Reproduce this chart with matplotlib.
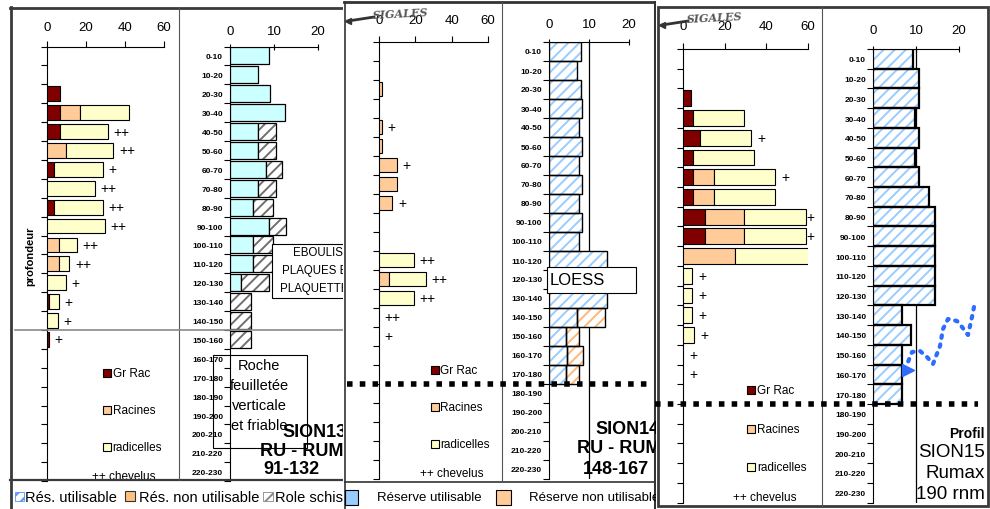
import matplotlib.pyplot as plt
import matplotlib.transforms as mtransforms
from matplotlib.patches import Rectangle
from matplotlib.lines import Line2D

plt.rcParams['font.family'] = ['Liberation Sans', 'DejaVu Sans']
plt.rcParams['hatch.linewidth'] = 1.4
plt.rcParams['axes.linewidth'] = 0.8

profondeurs = ['0-10', '10-20', '20-30', '30-40', '40-50', '50-60', '60-70',
               '70-80', '80-90', '90-100', '100-110', '110-120', '120-130',
               '130-140', '140-150', '150-160', '160-170', '170-180',
               '180-190', '190-200', '200-210', '210-220', '220-230']

# SION13 : racines (gauche) et reserves (droite)
s13_gr_rac = [0, 0, 6.8, 6.8, 6.8, 0, 3.7, 0, 3.7, 0, 0, 0, 0, 1.2, 0, 0.8, 0, 0, 0, 0, 0, 0, 0]
s13_racines = [0, 0, 0, 9.9, 0, 9.7, 0, 0, 0, 0, 6.0, 6.0, 0, 0, 0, 0, 0, 0, 0, 0, 0, 0, 0]
s13_radicelles = [0, 0, 0, 25.1, 24.4, 24.4, 24.8, 24.4, 24.8, 29.5, 9.3, 5.4, 9.7, 4.8, 5.5, 0, 0, 0, 0, 0, 0, 0, 0]
s13_chevelus = ['', '', '', '', '++', '++', '+', '++', '++', '++', '++', '++', '+', '+', '+', '+',
                '', '', '', '', '', '', '']
s13_res_util = [8.85, 6.4, 9.1, 12.5, 6.4, 6.4, 8.1, 6.4, 5.2, 8.8, 5.2, 5.2, 2.5, 0, 0, 0, 0, 0, 0, 0, 0, 0, 0]
s13_schiste = [0, 0, 0, 0, 4.0, 4.0, 3.8, 4.0, 4.6, 3.9, 4.6, 5.4, 6.3, 4.8, 4.8, 4.8, 0, 0, 0, 0, 0, 0, 0]

# SION14
s14_gr_rac = [0, 0, 0, 0, 0, 0, 0, 0, 0, 0, 0, 0, 0, 0, 0, 0, 0, 0, 0, 0, 0, 0, 0]
s14_racines = [0, 0, 1.5, 0, 1.5, 1.5, 9.8, 9.8, 7.4, 0, 0, 0, 5.7, 0, 0, 0, 0, 0, 0, 0, 0, 0, 0]
s14_radicelles = [0, 0, 0, 0, 0, 0, 0, 0, 0, 0, 0, 19.3, 20.1, 19.3, 0, 0, 0, 0, 0, 0, 0, 0, 0]
s14_chevelus = ['', '', '', '', '+', '', '+', '', '+', '', '', '++', '++', '++', '++', '+',
                '', '', '', '', '', '', '']
s14_res_util = [7.9, 6.9, 7.9, 8.3, 7.4, 8.3, 7.4, 8.3, 7.4, 8.3, 7.4, 14.4, 14.4, 14.4, 6.9, 4.2, 4.5, 4.2,
                0, 0, 0, 0, 0]
s14_res_non_util = [0, 0, 0, 0, 0, 0, 0, 0, 0, 0, 0, 0, 0, 0, 7.1, 3.4, 3.9, 3.4, 0, 0, 0, 0, 0]

# SION15
s15_gr_rac = [0, 0, 3.7, 4.8, 8.0, 4.8, 4.8, 4.8, 10.4, 10.4, 0, 0, 0, 0, 0, 0, 0, 0, 0, 0, 0, 0, 0]
s15_racines = [0, 0, 0, 0, 0, 0, 9.9, 9.9, 18.9, 18.9, 24.8, 0, 0, 0, 0, 0, 0, 0, 0, 0, 0, 0, 0]
s15_radicelles = [0, 0, 0, 24.5, 24.6, 29.3, 29.5, 29.5, 29.9, 29.9, 35.7, 4.3, 4.3, 4.3, 5.3, 0, 0, 0,
                  0, 0, 0, 0, 0]
s15_chevelus = ['', '', '', '', '+', '', '+', '', '+', '+', '', '+', '+', '+', '+', '+', '+',
                '', '', '', '', '', '']
s15_res_util = [9.4, 10.6, 10.6, 9.7, 10.6, 9.7, 10.6, 13.0, 14.4, 14.4, 14.4, 14.4, 14.4, 6.7, 8.9, 6.7,
                6.7, 6.7, 0, 0, 0, 0, 0]

C_GR = '#800000'
C_RAC = '#FFCC99'
C_RAD = '#FFFFCC'

W, H = 990, 510
fig = plt.figure(figsize=(W / 100, H / 100), dpi=100)
px = mtransforms.Affine2D().scale(1 / W, -1 / H).translate(0, 1) + fig.transFigure
rangs = list(range(len(profondeurs)))
bords = [r - 0.5 for r in range(len(profondeurs) + 1)]
zeros = [0] * len(profondeurs)


def axe(x0, x1, top, rowh, z, xmax, xticks, pad, tdir):
    y1 = top + rowh * len(profondeurs)
    ax = fig.add_axes([x0 / W, 1 - y1 / H, (x1 - x0) / W, (y1 - top) / H])
    ax.set_zorder(z)
    ax.patch.set_visible(False)
    ax.set_xlim(0, xmax)
    ax.set_ylim(len(profondeurs) - 0.5, -0.5)
    ax.spines[['right', 'bottom']].set_visible(False)
    ax.xaxis.tick_top()
    ax.set_xticks(xticks)
    ax.tick_params(axis='x', direction=tdir, length=4, width=0.8, pad=pad, labelsize=9.5)
    ax.set_yticks([])
    ax.set_yticks(bords, minor=True)
    ax.tick_params(axis='y', which='minor', direction='out', length=4, width=0.8)
    return ax


def segment(ax, vals, gauche, couleur, h, lw, hachure=None, hcoul=None, z=3):
    ys = [r for r in rangs if vals[r] > 0]
    w = [vals[r] for r in ys]
    g = [gauche[r] for r in ys]
    if hachure:
        ax.barh(ys, w, left=g, height=h, color=couleur, edgecolor=hcoul, hatch=hachure,
                linewidth=0, zorder=z)
        ax.barh(ys, w, left=g, height=h, fill=False, edgecolor='black', linewidth=lw, zorder=z + 0.1)
    else:
        ax.barh(ys, w, left=g, height=h, color=couleur, edgecolor='black', linewidth=lw, zorder=z)


def racines(ax, gr, rac, rad, chev, h, leg_x, chev_x):
    g3 = [a + b for a, b in zip(gr, rac)]
    segment(ax, gr, zeros, C_GR, h, 0.8)
    segment(ax, rac, gr, C_RAC, h, 0.8)
    segment(ax, rad, g3, C_RAD, h, 0.8)
    for r in rangs:
        if chev[r]:
            ax.text(min(g3[r] + rad[r] + 3, 59), r, chev[r], fontsize=10, va='center', ha='left',
                    clip_on=False)
    for lab, col, yy in [('Gr Rac', C_GR, 16.8), ('Racines', C_RAC, 18.75), ('radicelles', C_RAD, 20.7)]:
        ax.plot([leg_x], [yy], marker='s', ms=5.5, mfc=col, mec='black', mew=0.8, clip_on=False)
        ax.text(leg_x + 3, yy, lab, fontsize=8.5, va='center', ha='left')
    ax.text(chev_x, 22.2, '++ chevelus', fontsize=8.5, va='center', ha='left')


def reserves_labels(ax):
    ax.set_yticks(rangs)
    ax.set_yticklabels(profondeurs, fontsize=6, fontweight='bold')
    ax.tick_params(axis='y', which='major', length=0, pad=5)


def ligne(xs, ys, z, lw=0.8, color='black', **kw):
    fig.add_artist(Line2D(xs, ys, transform=px, lw=lw, color=color, zorder=z, **kw))


def rect(x, y, w, h, z, **kw):
    fig.add_artist(Rectangle((x, y), w, h, transform=px, zorder=z, **kw))


def texte(x, y, s, z, **kw):
    fig.text(x, y, s, transform=px, zorder=z, **kw)


# ---------------- panneau SION13 ----------------
a1 = axe(47, 164, 47.5, 18.9, 2, 60, [0, 20, 40, 60], 5.5, 'out')
racines(a1, s13_gr_rac, s13_racines, s13_radicelles, s13_chevelus, 0.78, 30.6, 23)
b1 = axe(230, 318, 47.5, 18.9, 2, 20, [0, 10, 20], 4.5, 'inout')
reserves_labels(b1)
segment(b1, s13_res_util, zeros, '#CCFFFF', 0.9, 0.9)
segment(b1, s13_schiste, s13_res_util, 'white', 0.9, 0.9, hachure='///', hcoul='#707070')

ligne([10, 346], [8.5, 8.5], 3, lw=2, color='#3a3a3a')
ligne([11, 11], [8, 510], 3, lw=2, color='#3a3a3a')
ligne([10, 346], [481, 481], 3, lw=1.6, color='#3a3a3a')
ligne([179, 179], [8, 481], 3, lw=0.8, color='#555555')
ligne([15, 346], [331, 331], 3, lw=1.2, color='#8a8a8a')
texte(30, 256, 'profondeur', 3, fontsize=8, fontweight='bold', rotation=90, ha='center', va='center')

rect(272, 245, 92, 54, 3, fc='white', ec='black', lw=0.8)
for yy, s in [(253, 'EBOULIS'), (271, 'PLAQUES ET'), (289, 'PLAQUETTES')]:
    texte(318, yy, s, 3, fontsize=8.3, ha='center', va='center')
rect(213, 356, 94, 93, 3, fill=False, ec='black', lw=0.8)
for yy, s in [(366, 'Roche'), (386, 'feuilletée'), (406, 'verticale'), (426, 'et friable')]:
    texte(259, yy, s, 3, fontsize=10.5, ha='center', va='center')
for xx, yy, s in [(282, 433, 'SION13'), (260, 452, 'RU - RUM'), (263, 470, '91-132')]:
    texte(xx, yy, s, 3, fontsize=13, fontweight='bold', ha='left', va='center')

rect(15, 493, 9, 9, 3, fc='white', ec='#4d94ff', hatch='///', lw=0.6)
texte(25, 498, 'Rés. utilisable', 3, fontsize=10.5, va='center')
rect(125, 492, 10, 10, 3, fc='#FFC080', ec='#333333', lw=0.8)
texte(139, 498, 'Rés. non utilisable', 3, fontsize=10.5, va='center')
rect(263, 493, 10, 9, 3, fc='white', ec='#888888', hatch='///', lw=0.6)
texte(275, 498, 'Role schiste', 3, fontsize=10.5, va='center')

# ---------------- panneau SION14 ----------------
rect(343, 0, 313, 510, 10.5, fc='white', ec='none')
a2 = axe(379, 488, 42.5, 19.0, 12, 60, [0, 20, 40, 60], 7, 'out')
racines(a2, s14_gr_rac, s14_racines, s14_radicelles, s14_chevelus, 0.72, 30.8, 22.6)
b2 = axe(549, 629, 42.5, 19.0, 12, 20, [0, 10, 20], 6.5, 'inout')
reserves_labels(b2)
b2.axvline(10, color='black', lw=0.9, zorder=1)
segment(b2, s14_res_util, zeros, 'white', 1.0, 1.0, hachure='///', hcoul='#99CCFF')
segment(b2, s14_res_non_util, s14_res_util, 'white', 1.0, 1.0, hachure='///', hcoul='#FFB877')

ligne([344, 656], [3, 3], 13, lw=2, color='#333333')
ligne([345, 345], [3, 510], 13, lw=1.2, color='#333333')
ligne([654.5, 654.5], [3, 510], 13, lw=2.2, color='#333333')
ligne([345, 654], [482.5, 482.5], 13, lw=1.2, color='#333333')
ligne([502, 502], [3, 482], 13, lw=0.8, color='#555555')

rect(547, 268, 89, 26, 13, fc='white', ec='black', lw=0.8)
texte(550, 281, 'LOESS', 13, fontsize=12, va='center', ha='left')
for xx, yy, s in [(595, 430, 'SION14'), (577, 449, 'RU - RUM'), (583, 470, '148-167')]:
    texte(xx, yy, s, 13, fontsize=13, fontweight='bold', ha='left', va='center')
ligne([347, 647], [384.5, 384.5], 14, lw=4, color='black', linestyle=(0, (1, 1.3)))

rect(345, 491, 13, 15, 13, fc='#99CCFF', ec='black', lw=0.8)
texte(377, 498, 'Réserve utilisable', 13, fontsize=9.5, va='center')
rect(496, 491, 15, 15, 13, fc='#FFCC99', ec='black', lw=0.8)
texte(529, 498, 'Réserve non utilisable', 13, fontsize=9.5, va='center')

# ---------------- panneau SION15 ----------------
rect(656, 0, 334, 510, 20.5, fc='white', ec='none')
a3 = axe(683, 808, 50, 19.72, 22, 60, [0, 20, 40, 60], 8, 'out')
racines(a3, s15_gr_rac, s15_racines, s15_radicelles, s15_chevelus, 0.8, 32.7, 24)
b3 = axe(873, 959, 50, 19.72, 22, 20, [0, 10, 20], 7.5, 'inout')
reserves_labels(b3)
b3.axvline(10, color='black', lw=0.9, zorder=1)
segment(b3, s15_res_util, zeros, 'white', 1.0, 1.6, hachure='///', hcoul='#99CCFF')

rect(657.5, 7.5, 330.5, 499.5, 23, fill=False, ec='#3a3a3a', lw=2)
ligne([822, 822], [7, 507], 23, lw=0.8, color='#555555')
ligne([655, 978], [405, 405], 24, lw=4, color='black', linestyle=(0, (1, 1.3)))

texte(985, 434, 'Profil', 23, fontsize=10, fontweight='bold', ha='right', va='center')
for yy, s in [(453, 'SION15'), (474, 'Rumax'), (495, '190 rnm')]:
    texte(985, yy, s, 23, fontsize=13.5, ha='right', va='center')

# fleche bleue en pointilles
fleche_x = [974, 972, 968, 962, 957, 948, 943, 940, 933, 927, 920, 912, 908]
fleche_y = [308, 318, 336, 328, 322, 320, 330, 347, 365, 358, 352, 353, 363]
ligne(fleche_x, fleche_y, 24, lw=3, color='#2E6BFF', linestyle=(0, (0.6, 1.6)), dash_capstyle='round')
ligne([908], [371], 24, lw=0, marker='>', ms=9, color='#2E6BFF')

# logos
for x0, y0 in [(348, 22), (662, 26)]:
    ligne([x0, x0 + 26], [y0, y0 - 4], 24, lw=2, color='#333333', marker='<', ms=5, markevery=[0])
    texte(x0 + 24, y0 - 8, 'SIGALES', 24, fontsize=8, fontstyle='italic', fontweight='bold',
          family='DejaVu Serif', color='#555555', va='center', rotation=3)

fig.savefig('out.png', dpi=100)
